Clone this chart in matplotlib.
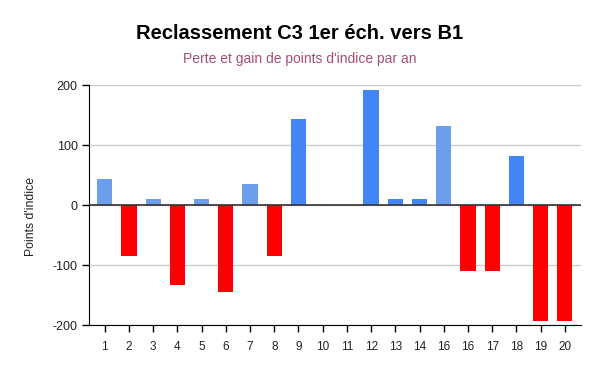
from matplotlib import pyplot as plt

plt.rcParams["font.family"] = ["Liberation Sans", "DejaVu Sans"]
plt.rcParams["axes.unicode_minus"] = False

labels = ["1", "2", "3", "4", "5", "6", "7", "8", "9", "10",
          "11", "12", "13", "14", "16", "16", "17", "18", "19", "20"]
values = [44, -85, 10, -132, 10, -145, 35, -85, 144, 0,
          0, 192, 10, 10, 132, -109, -109, 83, -193, -193]
colors = ["#6d9eeb", "#ff0000", "#6d9eeb", "#ff0000", "#6d9eeb",
          "#ff0000", "#6d9eeb", "#ff0000", "#4285f4", "#4285f4",
          "#4285f4", "#4285f4", "#4285f4", "#4285f4", "#6d9eeb",
          "#ff0000", "#ff0000", "#4285f4", "#ff0000", "#ff0000"]

fig = plt.figure(figsize=(6, 3.71), dpi=100)
ax = fig.add_axes([0.148, 0.123, 0.820, 0.647])

x = list(range(1, len(values) + 1))
ax.bar(x, values, width=0.63, color=colors, zorder=3)

ax.set_xlim(0.34, 20.66)
ax.set_ylim(-200, 200)
ax.set_yticks([-200, -100, 0, 100, 200])
ax.set_xticks(x)
ax.set_xticklabels(labels)

ax.grid(axis="y", color="#cccccc", linewidth=1, zorder=0)
ax.axhline(0, color="#333333", linewidth=1.2, zorder=4)

for s in ["top", "right"]:
    ax.spines[s].set_visible(False)
ax.spines["left"].set_color("black")
ax.spines["bottom"].set_color("black")
ax.tick_params(axis="both", length=5, width=1, colors="black",
               labelcolor="#222222")
ax.tick_params(axis="x", labelsize=8.5, pad=6)
ax.tick_params(axis="y", labelsize=9, pad=3)

ax.set_ylabel("Points d'indice", fontsize=8.8, color="#222222")
ax.yaxis.set_label_coords(-0.106, 0.455)

fig.text(0.5, 0.91, "Reclassement C3 1er éch. vers B1", ha="center",
         va="center", fontsize=14.5, fontweight="bold", color="black")
fig.text(0.5, 0.84, "Perte et gain de points d'indice par an", ha="center",
         va="center", fontsize=10, color="#a64d79")

fig.savefig("out.png", dpi=100)
